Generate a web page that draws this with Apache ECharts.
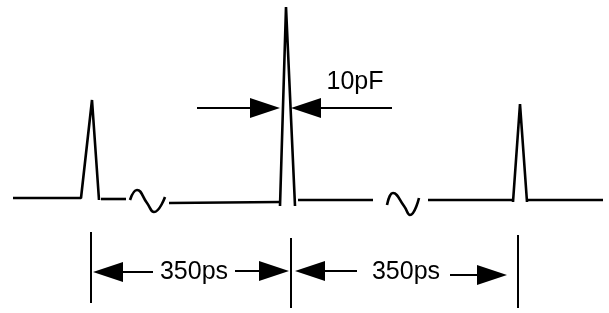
<!DOCTYPE html>
<html>
<head>
<meta charset="utf-8">
<script src="https://cdn.jsdelivr.net/npm/echarts@6/dist/echarts.min.js"></script>
<style>
  html, body { margin: 0; padding: 0; background: #fff; }
  #main { width: 609px; height: 313px; }
</style>
</head>
<body>
<div id="main"></div>
<script>
// pulse train traces (x, y in picture units)
var pulse1 = [[13, 198], [81, 198], [92, 100], [99, 200]];
var base1 = [[101, 199], [126, 199]];
var wave1 = [[130, 200], [137, 190], [147, 203], [154, 212], [165, 197]];
var base2 = [[169, 203], [280, 202]];
var pulse2 = [[280, 206], [286, 7], [295, 206]];
var base3 = [[298, 200], [373, 200]];
var wave2 = [[387, 205], [393, 193], [404, 206], [410, 215], [419, 198]];
var base4 = [[428, 200], [513, 200]];
var pulse3 = [[513, 202], [520, 104], [527, 202]];
var base5 = [[528, 200], [603, 200]];

// dimension lines
var shafts = [
  [[197, 108], [252, 108]],
  [[320, 108], [392, 108]],
  [[121, 272], [153, 272]],
  [[235, 271], [261, 271]],
  [[323, 271], [357, 271]],
  [[450, 275], [479, 275]]
];
var ticks = [
  [[91, 232], [91, 303]],
  [[291, 238], [291, 308]],
  [[518, 235], [518, 308]]
];
// arrow tips: x, y, direction (1 = points right, -1 = points left)
var heads = [[280, 108, 1], [291, 108, -1], [93, 272, -1], [289, 271, 1], [295, 271, -1], [507, 275, 1]];
// text labels: x, y, text
var labels = [[355, 82, '10pF'], [194, 272, '350ps'], [406, 272, '350ps']];

var traces = [pulse1, base1, wave1, base2, pulse2, base3, wave2, base4, pulse3, base5];

function lineSeries(pts, w, smooth) {
  return {
    type: 'line', data: pts, symbol: 'none', smooth: smooth ? 0.5 : false,
    silent: true, animation: false,
    lineStyle: { color: '#000', width: w }
  };
}

var series = [];
traces.forEach(function (t) {
  series.push(lineSeries(t, 2.6, t === wave1 || t === wave2));
});
shafts.forEach(function (s) { series.push(lineSeries(s, 2, false)); });
ticks.forEach(function (s) { series.push(lineSeries(s, 2, false)); });

series.push({
  type: 'custom', animation: false, silent: true,
  data: heads,
  renderItem: function (params, api) {
    var d = api.value(2);
    var tip = api.coord([api.value(0), api.value(1)]);
    var b1 = api.coord([api.value(0) - d * 30, api.value(1) - 10]);
    var b2 = api.coord([api.value(0) - d * 30, api.value(1) + 10]);
    return { type: 'polygon', shape: { points: [tip, b1, b2] }, style: { fill: '#000' } };
  }
});

series.push({
  type: 'custom', animation: false, silent: true,
  data: labels.map(function (l) { return [l[0], l[1]]; }),
  renderItem: function (params, api) {
    var p = api.coord([api.value(0), api.value(1)]);
    return {
      type: 'text', x: p[0], y: p[1],
      style: {
        text: labels[params.dataIndex][2], fill: '#000',
        font: '25px "Liberation Sans", Arial, sans-serif',
        align: 'center', verticalAlign: 'middle'
      }
    };
  }
});

var myChart = echarts.init(document.getElementById('main'));
myChart.setOption({
  backgroundColor: '#fff',
  grid: { left: 0, right: 0, top: 0, bottom: 0 },
  xAxis: { type: 'value', min: 0, max: 609, show: false },
  yAxis: { type: 'value', min: 0, max: 313, inverse: true, show: false },
  series: series
});
</script>
</body>
</html>
